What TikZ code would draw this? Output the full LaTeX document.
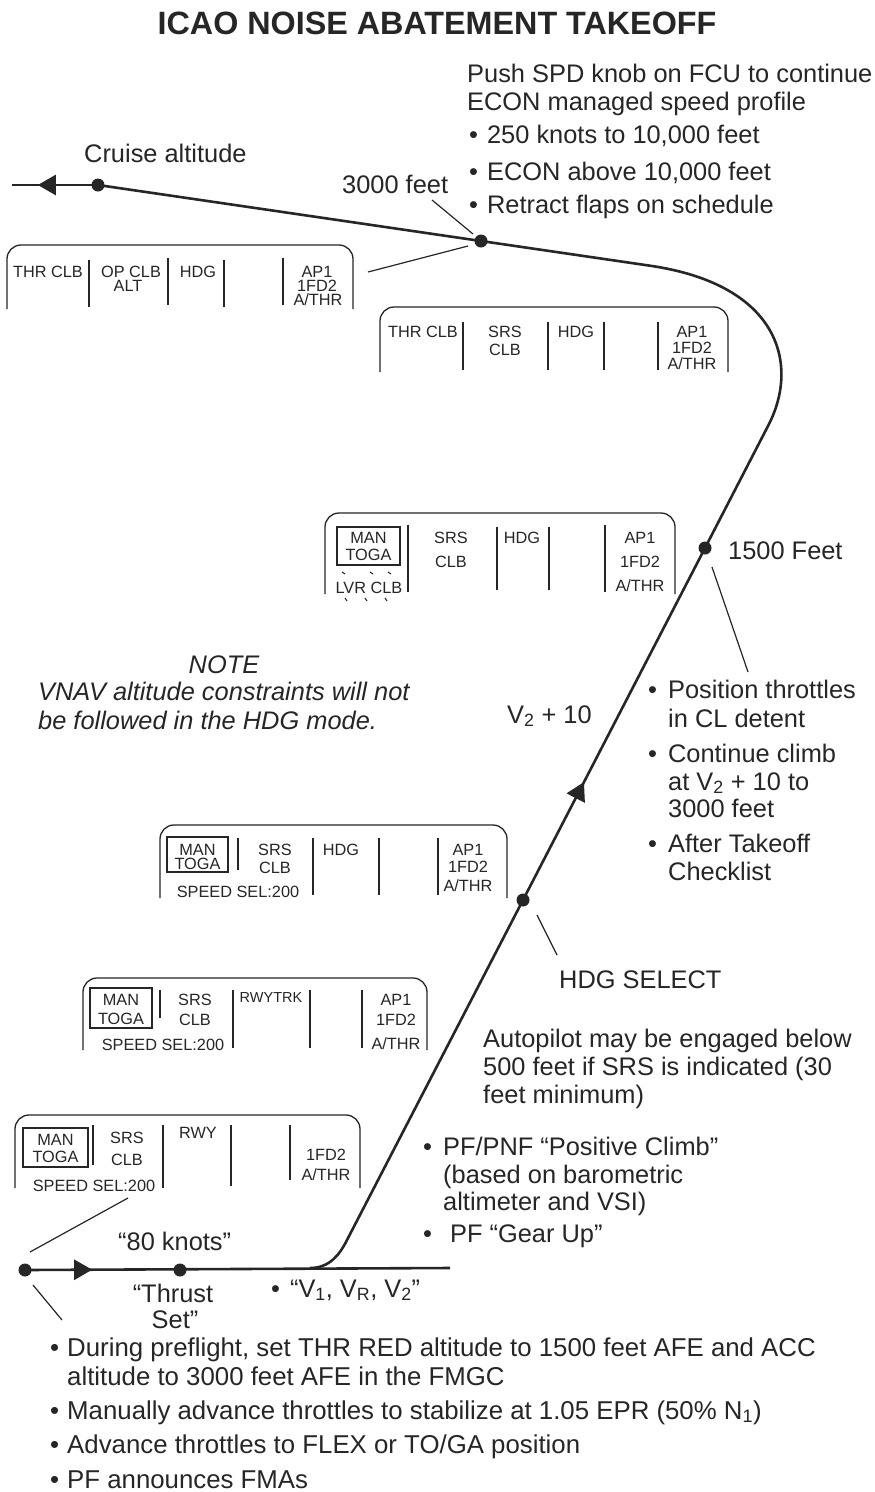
\documentclass[tikz,border=0pt]{standalone}
\usepackage{fontspec}
\setmainfont{Liberation Sans}
\usetikzlibrary{arrows.meta,decorations.markings}
\newcommand\txtsize{\fontsize{25.4}{28}\selectfont}
\newcommand\botsize{\fontsize{25.8}{28}\selectfont}
\newcommand\fmasize{\fontsize{16.3}{17}\selectfont}
\newcommand\fmaframe[4]{\draw[fmabox] (#1,#4) -- (#1,#2) -- (#3,#2) -- (#3,#4);}
\definecolor{ink}{HTML}{262626}
\begin{document}
\begin{tikzpicture}[x=1pt,y=-1pt,
  txt/.style={font=\txtsize, inner sep=0pt, anchor=base west, text=ink},
  btxt/.style={font=\botsize, inner sep=0pt, anchor=base west, text=ink},
  ctxt/.style={font=\txtsize, inner sep=0pt, anchor=base, text=ink},
  fm/.style={font=\fmasize, inner sep=0pt, anchor=base, text=ink},
  fmabox/.style={line width=1.3pt, rounded corners=14pt, draw=ink},
  div/.style={line width=1.3pt, draw=ink},
  flight/.style={line width=2.6pt, draw=ink},
  dot/.style={circle, fill=ink, inner sep=0pt, minimum size=13pt},
  leader/.style={line width=1.2pt, draw=ink},
  arrowmark/.style={postaction={decorate}, decoration={markings, mark=at position #1 with {\arrow[ink]{Triangle[length=18pt,width=20pt]}}}},
]
\fill[white] (0,0) rectangle (875,1492);
\useasboundingbox (0,0) rectangle (875,1492);

% title
\node[font=\fontsize{32.3}{36}\selectfont\bfseries, inner sep=0pt, anchor=base, text=ink] (title) at (437,34) {ICAO NOISE ABATEMENT TAKEOFF};

% flight path coordinates
\coordinate (p0) at (25,1270);
\coordinate (pthr) at (180,1270);
\coordinate (gend) at (450,1268);
\coordinate (rot) at (310,1268);
\coordinate (lift) at (347,1240);
\coordinate (phdg) at (523,900);
\coordinate (p1500) at (705,548);
\coordinate (turn) at (768,426);
\coordinate (topc) at (650,265.7);
\coordinate (p3000) at (481,241);
\coordinate (pcr) at (98,185);
\coordinate (cend) at (12,185);

\draw[flight, arrowmark=0.158] (p0) -- (gend);
\draw[flight] (rot) .. controls (330,1268) and (340,1254) .. (lift) -- (phdg);
\draw[flight, arrowmark=0.335] (phdg) -- (p1500);
\draw[flight] (p1500) -- (turn) .. controls (800,365) and (780,284.7) .. (topc) -- (p3000) -- (pcr);
\draw[flight, arrowmark=0.70] (pcr) -- (cend);

\node[dot] (d0) at (p0) {};
\node[dot] (dthr) at (pthr) {};
\node[dot] (dhdg) at (phdg) {};
\node[dot] (d1500) at (p1500) {};
\node[dot] (d3000) at (p3000) {};
\node[dot] (dcr) at (pcr) {};

% top-right text
\node[txt] (push1) at (467,82) {Push SPD knob on FCU to continue};
\node[txt] (push2) at (467,110) {ECON managed speed profile};
\node[txt] (tb1) at (469,143) {•\hspace{9pt}250 knots to 10,000 feet};
\node[txt] (tb2) at (469,180) {•\hspace{9pt}ECON above 10,000 feet};
\node[txt] (tb3) at (469,213) {•\hspace{9pt}Retract flaps on schedule};

\node[txt] (cruise) at (84,162) {Cruise altitude};
\node[txt] (l3000) at (342,193) {3000 feet};
\coordinate (l3000a) at (432,200);
\coordinate (l3000b) at (473,234);
\draw[leader] (l3000a) -- (l3000b);

% FMA box 1
\fmaframe{7}{245}{353}{309}
\draw[div] (89,260) -- (89,307);
\draw[div] (168,258) -- (168,305);
\draw[div] (224,260) -- (224,307);
\draw[div] (283,258) -- (283,305);
\node[fm] (f1a) at (48,277) {THR CLB};
\node[fm] (f1b) at (131,277) {OP CLB};
\node[fm] (f1c) at (128,291) {ALT};
\node[fm] (f1d) at (198,277) {HDG};
\node[fm] (f1e) at (317,277) {AP1};
\node[fm] (f1f) at (317,291) {1FD2};
\node[fm] (f1g) at (318,305) {A/THR};
\coordinate (f1lead) at (368,272);
\coordinate (f1end) at (468,246);
\draw[leader] (f1lead) -- (f1end);

% FMA box 2
\fmaframe{380}{307}{728}{372}
\foreach \x in {463,548,604,658} \draw[div] (\x,322) -- (\x,370);
\node[fm] (f2a) at (423,337) {THR CLB};
\node[fm] (f2b) at (505,337) {SRS};
\node[fm] (f2c) at (505,355) {CLB};
\node[fm] (f2d) at (576,337) {HDG};
\node[fm] (f2e) at (692,337) {AP1};
\node[fm] (f2f) at (692,353) {1FD2};
\node[fm] (f2g) at (692,369) {A/THR};

% FMA box 3
\fmaframe{325}{513}{675}{594}
\draw[div] (337,527) rectangle (400,565);
\node[fm] (f3a) at (368.5,543) {MAN};
\node[fm] (f3b) at (368.5,560) {TOGA};
\node[fm] (f3c) at (369,593) {LVR CLB};
\foreach \x in {342,370,388} \draw[line width=1pt, ink] (\x,572) -- (\x+3,574);
\foreach \x in {345,365,385} \draw[line width=1pt, ink] (\x,598) -- (\x+2,601);
\draw[div] (408,525) -- (408,592);
\draw[div] (497,527) -- (497,590);
\draw[div] (549,527) -- (549,590);
\draw[div] (605,525) -- (605,592);
\node[fm] (f3d) at (451,543) {SRS};
\node[fm] (f3e) at (451,567) {CLB};
\node[fm] (f3f) at (522,543) {HDG};
\node[fm] (f3g) at (640,543) {AP1};
\node[fm] (f3h) at (640,567) {1FD2};
\node[fm] (f3i) at (640,591) {A/THR};

\node[txt] (l1500) at (728,559) {1500 Feet};
\coordinate (l1500a) at (712,567);
\coordinate (l1500b) at (748,672);
\draw[leader] (l1500a) -- (l1500b);

% note
\node[ctxt, font=\txtsize\itshape] (note) at (224,673) {NOTE};
\node[txt, font=\txtsize\itshape] (note1) at (38,700) {VNAV altitude constraints will not};
\node[txt, font=\txtsize\itshape] (note2) at (38,729) {be followed in the HDG mode.};

\node[txt] (v2) at (507,723) {V\textsubscript{2} + 10};

% right bullets
\node[txt] (r1) at (648,698) {•\hspace{11pt}Position throttles};
\node[txt] (r1b) at (668,727) {in CL detent};
\node[txt] (r2) at (648,762) {•\hspace{11pt}Continue climb};
\node[txt] (r2b) at (668,790) {at V\textsubscript{2} + 10 to};
\node[txt] (r2c) at (668,817) {3000 feet};
\node[txt] (r3) at (648,852) {•\hspace{11pt}After Takeoff};
\node[txt] (r3b) at (668,880) {Checklist};

% FMA box 4
\fmaframe{160}{825}{507}{898}
\draw[div] (167,837) rectangle (228,872);
\node[fm] (f4a) at (197.5,855) {MAN};
\node[fm] (f4b) at (197.5,869) {TOGA};
\draw[div] (238,838) -- (238,870);
\foreach \x in {313,379,438} \draw[div] (\x,838) -- (\x,895);
\node[fm] (f4c) at (275,855) {SRS};
\node[fm] (f4d) at (275,873) {CLB};
\node[fm] (f4e) at (341,855) {HDG};
\node[fm] (f4f) at (468,855) {AP1};
\node[fm] (f4g) at (468,872) {1FD2};
\node[fm] (f4h) at (468,891) {A/THR};
\node[fm] (f4i) at (238,897) {SPEED SEL:200};

% HDG select
\node[txt] (hdgsel) at (559,988) {HDG SELECT};
\coordinate (hdga) at (537,915);
\coordinate (hdgb) at (557,955);
\draw[leader] (hdga) -- (hdgb);

% FMA box 5
\fmaframe{83}{978}{427}{1050}
\draw[div] (90,988) rectangle (152,1028);
\node[fm] (f5a) at (121,1005) {MAN};
\node[fm] (f5b) at (121,1024) {TOGA};
\draw[div] (160,990) -- (160,1018);
\foreach \x in {233,310,362} \draw[div] (\x,990) -- (\x,1048);
\node[fm] (f5c) at (195,1005) {SRS};
\node[fm] (f5d) at (195,1025) {CLB};
\node[fm, font=\fontsize{14.5}{15}\selectfont] (f5e) at (271,1002) {RWYTRK};
\node[fm] (f5f) at (396,1005) {AP1};
\node[fm] (f5g) at (396,1025) {1FD2};
\node[fm] (f5h) at (396,1049) {A/THR};
\node[fm] (f5i) at (163,1050) {SPEED SEL:200};

% autopilot text
\node[txt] (ap1) at (483,1047) {Autopilot may be engaged below};
\node[txt] (ap2) at (483,1075) {500 feet if SRS is indicated (30};
\node[txt] (ap3) at (483,1103) {feet minimum)};

% FMA box 6
\fmaframe{15}{1115}{360}{1188}
\draw[div] (23,1128) rectangle (88,1167);
\node[fm] (f6a) at (55.5,1145) {MAN};
\node[fm] (f6b) at (55.5,1162) {TOGA};
\draw[div] (93,1125) -- (93,1165);
\draw[div] (163,1125) -- (163,1188);
\draw[div] (231,1125) -- (231,1186);
\draw[div] (290,1125) -- (290,1180);
\node[fm] (f6c) at (127,1143) {SRS};
\node[fm] (f6d) at (127,1165) {CLB};
\node[fm] (f6e) at (198,1138) {RWY};
\node[fm] (f6f) at (326,1160) {1FD2};
\node[fm] (f6g) at (326,1180) {A/THR};
\node[fm] (f6h) at (94,1191) {SPEED SEL:200};

% PF bullets
\node[txt] (pf1) at (423,1155) {•\hspace{11pt}PF/PNF “Positive Climb”};
\node[txt] (pf1b) at (443,1183) {(based on barometric};
\node[txt] (pf1c) at (443,1210) {altimeter and VSI)};
\node[txt] (pf2) at (423,1242) {•\hspace{18pt}PF “Gear Up”};

% ground labels
\node[txt] (k80) at (118,1250) {“80 knots”};
\node[ctxt] (thr1) at (173,1302) {“Thrust};
\node[ctxt] (thr2) at (175,1328) {Set”};
\node[txt] (vspd) at (271,1297) {•\hspace{10pt}“V\textsubscript{1}, V\textsubscript{R}, V\textsubscript{2}”};

\coordinate (s1a) at (30,1252);
\coordinate (s1b) at (128,1198);
\draw[leader] (s1a) -- (s1b);
\coordinate (s2a) at (33,1285);
\coordinate (s2b) at (62,1320);
\draw[leader] (s2a) -- (s2b);

% bottom bullets
\node[btxt] (bb1) at (50,1356) {•\hspace{8pt}During preflight, set THR RED altitude to 1500 feet AFE and ACC};
\node[btxt] (bb1b) at (67,1385) {altitude to 3000 feet AFE in the FMGC};
\node[btxt] (bb2) at (50,1419) {•\hspace{8pt}Manually advance throttles to stabilize at 1.05 EPR (50\% N\textsubscript{1})};
\node[btxt] (bb3) at (50,1453) {•\hspace{8pt}Advance throttles to FLEX or TO/GA position};
\node[btxt] (bb4) at (50,1488) {•\hspace{8pt}PF announces FMAs};
\end{tikzpicture}
\end{document}
